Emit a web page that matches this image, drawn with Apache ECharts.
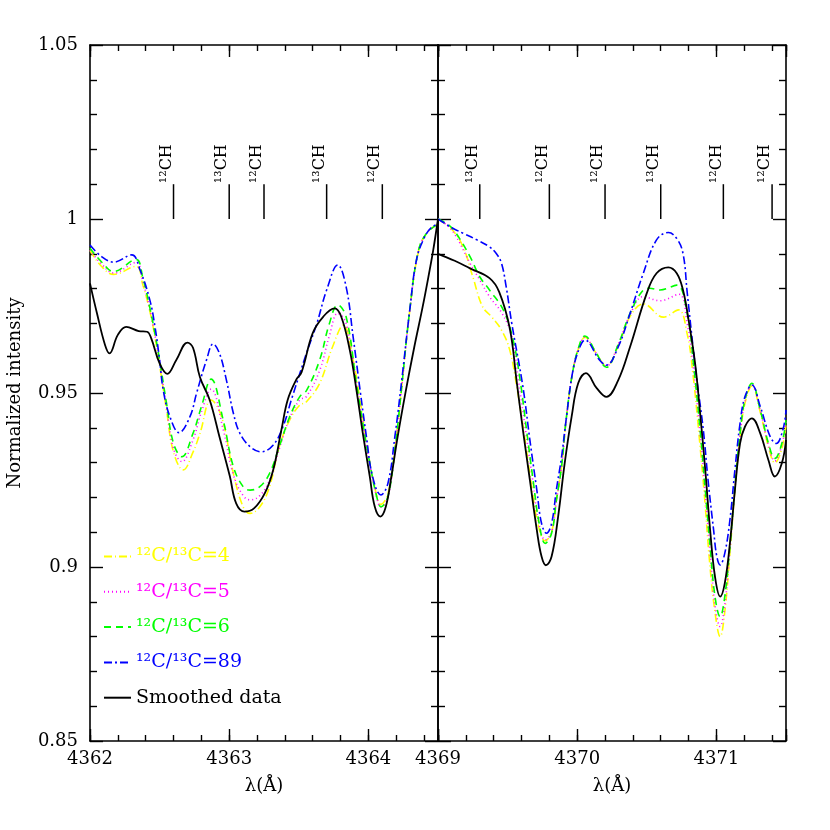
<!DOCTYPE html>
<html>
<head>
<meta charset="utf-8">
<title>CH lines</title>
<script src="https://cdn.jsdelivr.net/npm/echarts@6/dist/echarts.min.js"></script>
<style>
  html, body { margin: 0; padding: 0; background: #fff; }
  #chart { width: 830px; height: 830px; }
</style>
</head>
<body>
<div id="chart"></div>
<script>
// ---- data ----
// left window 4362 - 4364.5 A
var leftSmoothX = [4362.00, 4362.05, 4362.108, 4362.14, 4362.20, 4362.26, 4362.35, 4362.41, 4362.44, 4362.50, 4362.555, 4362.62, 4362.70, 4362.74, 4362.79, 4362.86, 4362.93, 4363.005, 4363.05, 4363.11, 4363.18, 4363.256, 4363.316, 4363.375, 4363.42, 4363.48, 4363.52, 4363.60, 4363.675, 4363.757, 4363.805, 4363.866, 4363.914, 4363.96, 4364.01, 4364.046, 4364.086, 4364.125, 4364.165, 4364.21, 4364.27, 4364.33, 4364.39, 4364.44, 4364.466, 4364.50]
var leftSmoothY = [0.9815, 0.9729, 0.9638, 0.9614, 0.9667, 0.9690, 0.9678, 0.9676, 0.9657, 0.9585, 0.9555, 0.9595, 0.9645, 0.9630, 0.9545, 0.9480, 0.9374, 0.9260, 0.9183, 0.9159, 0.9169, 0.9212, 0.9279, 0.9394, 0.9480, 0.9537, 0.9560, 0.9672, 0.9719, 0.9743, 0.9719, 0.9624, 0.9509, 0.9384, 0.9260, 0.9173, 0.9145, 0.9173, 0.9260, 0.9374, 0.9509, 0.9633, 0.9748, 0.9853, 0.9911, 1.0000]

var leftR89X = [4362.00, 4362.08, 4362.17, 4362.30, 4362.36, 4362.43, 4362.467, 4362.50, 4362.526, 4362.574, 4362.64, 4362.718, 4362.766, 4362.837, 4362.885, 4362.93, 4362.98, 4363.03, 4363.077, 4363.15, 4363.23, 4363.315, 4363.386, 4363.45, 4363.555, 4363.63, 4363.70, 4363.78, 4363.84, 4363.89, 4363.94, 4363.986, 4364.03, 4364.09, 4364.14, 4364.19, 4364.237, 4364.297, 4364.345, 4364.40, 4364.45, 4364.50]
var leftR89Y = [0.9925, 0.9893, 0.9876, 0.9897, 0.9853, 0.9767, 0.9690, 0.9595, 0.9509, 0.9432, 0.9386, 0.9432, 0.9500, 0.9595, 0.9641, 0.9614, 0.9537, 0.9442, 0.9384, 0.9346, 0.9331, 0.9350, 0.9403, 0.9485, 0.9614, 0.9700, 0.9796, 0.9868, 0.9805, 0.9662, 0.9509, 0.9374, 0.9260, 0.9207, 0.9240, 0.9374, 0.9528, 0.9738, 0.9882, 0.9945, 0.9975, 0.9985]

var leftR6X = [4362.00, 4362.08, 4362.17, 4362.33, 4362.38, 4362.43, 4362.467, 4362.50, 4362.55, 4362.60, 4362.66, 4362.74, 4362.80, 4362.87, 4362.957, 4363.03, 4363.10, 4363.15, 4363.22, 4363.29, 4363.36, 4363.435, 4363.506, 4363.555, 4363.65, 4363.72, 4363.78, 4363.84, 4363.914, 4363.96, 4364.01, 4364.06, 4364.09, 4364.14, 4364.19, 4364.237, 4364.297, 4364.36, 4364.42, 4364.50]
var leftR6Y = [0.9916, 0.9878, 0.9849, 0.9884, 0.9830, 0.9745, 0.9670, 0.9595, 0.9470, 0.9355, 0.9317, 0.9384, 0.9460, 0.9540, 0.9422, 0.9288, 0.9231, 0.9221, 0.9231, 0.9269, 0.9346, 0.9432, 0.9489, 0.9507, 0.9595, 0.9700, 0.9753, 0.9719, 0.9528, 0.9413, 0.9298, 0.9202, 0.9173, 0.9202, 0.9336, 0.9509, 0.9738, 0.9910, 0.9960, 0.9985]

var leftR5X = leftR6X
var leftR5Y = [0.9910, 0.9872, 0.9845, 0.9875, 0.9820, 0.9740, 0.9665, 0.9590, 0.9460, 0.9340, 0.9303, 0.9365, 0.9445, 0.9511, 0.9395, 0.9265, 0.9205, 0.9193, 0.9205, 0.9250, 0.9340, 0.9428, 0.9480, 0.9490, 0.9565, 0.9665, 0.9729, 0.9700, 0.9525, 0.9410, 0.9295, 0.9200, 0.9172, 0.9200, 0.9334, 0.9507, 0.9736, 0.9908, 0.9960, 0.9985]

var leftR4X = [4362.00, 4362.08, 4362.17, 4362.33, 4362.38, 4362.43, 4362.467, 4362.50, 4362.55, 4362.60, 4362.67, 4362.74, 4362.79, 4362.87, 4362.945, 4363.03, 4363.10, 4363.15, 4363.22, 4363.29, 4363.36, 4363.435, 4363.506, 4363.555, 4363.65, 4363.74, 4363.82, 4363.89, 4363.94, 4363.99, 4364.04, 4364.09, 4364.14, 4364.19, 4364.237, 4364.297, 4364.36, 4364.42, 4364.50]
var leftR4Y = [0.9910, 0.9865, 0.9841, 0.9864, 0.9810, 0.9735, 0.9660, 0.9580, 0.9450, 0.9330, 0.9279, 0.9330, 0.9384, 0.9480, 0.9432, 0.9269, 0.9173, 0.9154, 0.9173, 0.9231, 0.9346, 0.9423, 0.9465, 0.9475, 0.9528, 0.9630, 0.9695, 0.9595, 0.9480, 0.9350, 0.9240, 0.9180, 0.9210, 0.9336, 0.9509, 0.9736, 0.9908, 0.9960, 0.9985]

// right window 4369 - 4371.5 A
var rightSmoothX = [4369.00, 4369.12, 4369.23, 4369.37, 4369.44, 4369.516, 4369.564, 4369.61, 4369.66, 4369.71, 4369.744, 4369.775, 4369.816, 4369.863, 4369.91, 4369.96, 4370.007, 4370.063, 4370.14, 4370.21, 4370.295, 4370.38, 4370.50, 4370.57, 4370.655, 4370.715, 4370.76, 4370.80, 4370.847, 4370.883, 4370.92, 4370.955, 4370.99, 4371.027, 4371.06, 4371.097, 4371.133, 4371.17, 4371.205, 4371.255, 4371.315, 4371.374, 4371.42, 4371.47, 4371.50]
var rightSmoothY = [0.9900, 0.9880, 0.9858, 0.9830, 0.9790, 0.9685, 0.9537, 0.9394, 0.9250, 0.9106, 0.9030, 0.9005, 0.9030, 0.9145, 0.9298, 0.9432, 0.9528, 0.9557, 0.9514, 0.9489, 0.9537, 0.9633, 0.9787, 0.9844, 0.9861, 0.9844, 0.9796, 0.9710, 0.9585, 0.9442, 0.9279, 0.9106, 0.8972, 0.8915, 0.8953, 0.9068, 0.9221, 0.9355, 0.9403, 0.9427, 0.9384, 0.9307, 0.9260, 0.9298, 0.9365]

var rightR89X = [4369.00, 4369.10, 4369.18, 4369.28, 4369.37, 4369.42, 4369.456, 4369.49, 4369.53, 4369.61, 4369.66, 4369.71, 4369.744, 4369.78, 4369.816, 4369.85, 4369.888, 4369.92, 4369.97, 4370.02, 4370.055, 4370.16, 4370.21, 4370.295, 4370.38, 4370.475, 4370.57, 4370.655, 4370.715, 4370.76, 4370.79, 4370.83, 4370.86, 4370.906, 4370.94, 4370.98, 4371.003, 4371.027, 4371.06, 4371.097, 4371.133, 4371.17, 4371.205, 4371.255, 4371.315, 4371.387, 4371.43, 4371.48, 4371.50]
var rightR89Y = [1.0000, 0.9975, 0.9959, 0.9940, 0.9920, 0.9900, 0.9873, 0.9805, 0.9700, 0.9518, 0.9365, 0.9221, 0.9125, 0.9097, 0.9125, 0.9221, 0.9317, 0.9422, 0.9566, 0.9633, 0.9652, 0.9595, 0.9580, 0.9633, 0.9729, 0.9844, 0.9940, 0.9961, 0.9944, 0.9901, 0.9790, 0.9640, 0.9537, 0.9394, 0.9250, 0.9106, 0.9030, 0.9006, 0.9039, 0.9135, 0.9279, 0.9413, 0.9489, 0.9523, 0.9461, 0.9374, 0.9355, 0.9398, 0.9451]

var rightR6X = [4369.00, 4369.07, 4369.13, 4369.23, 4369.30, 4369.37, 4369.47, 4369.54, 4369.59, 4369.636, 4369.683, 4369.727, 4369.77, 4369.816, 4369.85, 4369.888, 4369.92, 4369.97, 4370.02, 4370.055, 4370.13, 4370.21, 4370.295, 4370.38, 4370.475, 4370.52, 4370.595, 4370.715, 4370.79, 4370.835, 4370.883, 4370.92, 4370.955, 4370.99, 4371.027, 4371.06, 4371.097, 4371.133, 4371.17, 4371.205, 4371.255, 4371.315, 4371.374, 4371.42, 4371.47, 4371.50]
var rightR6Y = [1.0000, 0.9985, 0.9959, 0.9892, 0.9834, 0.9796, 0.9738, 0.9652, 0.9537, 0.9394, 0.9250, 0.9125, 0.9068, 0.9097, 0.9190, 0.9290, 0.9422, 0.9566, 0.9643, 0.9664, 0.9620, 0.9574, 0.9640, 0.9729, 0.9796, 0.9801, 0.9796, 0.9810, 0.9729, 0.9585, 0.9394, 0.9221, 0.9058, 0.8915, 0.8857, 0.8915, 0.9058, 0.9231, 0.9384, 0.9480, 0.9528, 0.9451, 0.9355, 0.9312, 0.9355, 0.9422]

var rightR5X = [4369.00, 4369.07, 4369.13, 4369.23, 4369.30, 4369.37, 4369.46, 4369.53, 4369.58, 4369.63, 4369.68, 4369.725, 4369.77, 4369.816, 4369.85, 4369.888, 4369.92, 4369.97, 4370.02, 4370.055, 4370.13, 4370.21, 4370.295, 4370.38, 4370.475, 4370.595, 4370.73, 4370.79, 4370.835, 4370.883, 4370.92, 4370.955, 4370.99, 4371.027, 4371.06, 4371.097, 4371.133, 4371.17, 4371.205, 4371.255, 4371.315, 4371.374, 4371.42, 4371.47, 4371.50]
var rightR5Y = [1.0000, 0.9980, 0.9950, 0.9873, 0.9825, 0.9777, 0.9729, 0.9662, 0.9530, 0.9390, 0.9250, 0.9125, 0.9078, 0.9100, 0.9190, 0.9290, 0.9420, 0.9566, 0.9640, 0.9660, 0.9618, 0.9578, 0.9640, 0.9725, 0.9777, 0.9765, 0.9784, 0.9700, 0.9570, 0.9380, 0.9210, 0.9040, 0.8890, 0.8829, 0.8890, 0.9050, 0.9225, 0.9380, 0.9475, 0.9525, 0.9450, 0.9350, 0.9305, 0.9350, 0.9420]

var rightR4X = [4369.00, 4369.10, 4369.18, 4369.25, 4369.32, 4369.385, 4369.456, 4369.515, 4369.565, 4369.62, 4369.67, 4369.72, 4369.77, 4369.816, 4369.85, 4369.888, 4369.92, 4369.97, 4370.02, 4370.055, 4370.13, 4370.21, 4370.295, 4370.38, 4370.475, 4370.62, 4370.727, 4370.79, 4370.83, 4370.875, 4370.915, 4370.95, 4370.99, 4371.027, 4371.06, 4371.097, 4371.133, 4371.17, 4371.205, 4371.255, 4371.315, 4371.374, 4371.42, 4371.47, 4371.50]
var rightR4Y = [1.0000, 0.9970, 0.9920, 0.9834, 0.9748, 0.9719, 0.9681, 0.9624, 0.9520, 0.9380, 0.9240, 0.9120, 0.9075, 0.9100, 0.9190, 0.9290, 0.9420, 0.9566, 0.9640, 0.9660, 0.9618, 0.9578, 0.9635, 0.9720, 0.9756, 0.9718, 0.9739, 0.9670, 0.9560, 0.9380, 0.9200, 0.9020, 0.8870, 0.8800, 0.8870, 0.9040, 0.9220, 0.9375, 0.9470, 0.9520, 0.9445, 0.9345, 0.9300, 0.9340, 0.9410]

// line identifications at the top
var leftLineWave = [4362.60, 4363.00, 4363.25, 4363.70, 4364.10]
var leftLineLabel = ['¹²CH', '¹³CH', '¹²CH', '¹³CH', '¹²CH']
var rightLineWave = [4369.30, 4369.80, 4370.20, 4370.60, 4371.05, 4371.40]
var rightLineLabel = ['¹³CH', '¹²CH', '¹²CH', '¹³CH', '¹²CH', '¹²CH']

var seriesNames = ['¹²C/¹³C=4', '¹²C/¹³C=5', '¹²C/¹³C=6', '¹²C/¹³C=89', 'Smoothed data']
var seriesColors = ['#ffff00', '#ff00ff', '#00ff00', '#0000ff', '#000000']
var seriesDash = [[8, 3, 1, 3], [1, 3], [7, 5], [8, 3, 2, 3], 'solid']

var FONT = 'DejaVu Serif'

function pairs(xs, ys) {
  return xs.map(function (x, i) { return [x, ys[i]] })
}

function curve(k, xIdx, yIdx, data) {
  return {
    name: seriesNames[k],
    type: 'line',
    xAxisIndex: xIdx,
    yAxisIndex: yIdx,
    data: data,
    smooth: 0.4,
    symbol: 'none',
    clip: true,
    z: k === 4 ? 4 : 3,
    lineStyle: { color: seriesColors[k], width: k === 4 ? 1.8 : 1.6, type: seriesDash[k] },
    itemStyle: { color: seriesColors[k] }
  }
}

function markers(xIdx, yIdx, waves, labels) {
  return {
    type: 'custom',
    xAxisIndex: xIdx,
    yAxisIndex: yIdx,
    silent: true,
    data: waves.map(function (w) { return [w, 1.0] }),
    renderItem: function (params, api) {
      var w = api.value(0)
      var p0 = api.coord([w, 1.0])
      var p1 = api.coord([w, 1.01])
      return {
        type: 'group',
        children: [{
          type: 'line',
          shape: { x1: p0[0], y1: p0[1], x2: p1[0], y2: p1[1] },
          style: { stroke: '#000', lineWidth: 1.5 }
        }, {
          type: 'text',
          x: p1[0] + 1,
          y: p1[1] - 1,
          rotation: Math.PI / 2,
          style: {
            text: labels[params.dataIndex],
            x: 0,
            y: 0,
            align: 'left',
            verticalAlign: 'bottom',
            font: '16px "' + FONT + '"',
            fill: '#000'
          }
        }]
      }
    }
  }
}

// x axes: one for the long integer ticks + labels, one for the short 0.2 ticks
function xAxes(grid, min, max, pos, withLabels) {
  var major = {
    type: 'value', gridIndex: grid, position: pos, min: min, max: max, interval: 1,
    axisLine: { show: true, onZero: false, lineStyle: { color: '#000', width: 1.6 } },
    axisTick: { show: true, inside: true, length: 12, lineStyle: { color: '#000', width: 1.4 } },
    axisLabel: {
      show: withLabels, margin: 9, color: '#000', fontFamily: FONT, fontSize: 18,
      formatter: function (v) { return Math.abs(v - Math.round(v)) < 1e-6 ? String(Math.round(v)) : '' }
    },
    splitLine: { show: false }
  }
  if (withLabels) {
    major.name = 'λ(Å)'
    major.nameLocation = 'middle'
    major.nameGap = 36
    major.nameTextStyle = { color: '#000', fontFamily: FONT, fontSize: 18 }
  }
  var minor = {
    type: 'value', gridIndex: grid, position: pos, min: min, max: max, interval: 0.2,
    axisLine: { show: false, onZero: false },
    axisTick: { show: true, inside: true, length: 6, lineStyle: { color: '#000', width: 1.4 } },
    axisLabel: { show: false },
    splitLine: { show: false }
  }
  return [major, minor]
}

function yAxis(grid, pos, withLabels) {
  var ax = {
    type: 'value', gridIndex: grid, position: pos, min: 0.85, max: 1.05, interval: 0.05,
    axisLine: { show: true, onZero: false, lineStyle: { color: '#000', width: 1.6 } },
    axisTick: { show: true, inside: true, length: 13, lineStyle: { color: '#000', width: 1.4 } },
    minorTick: { show: true, splitNumber: 5, length: 7, lineStyle: { color: '#000', width: 1.4 } },
    axisLabel: { show: withLabels, margin: 12, color: '#000', fontFamily: FONT, fontSize: 18 },
    splitLine: { show: false },
    minorSplitLine: { show: false }
  }
  if (withLabels) {
    ax.name = 'Normalized intensity'
    ax.nameLocation = 'middle'
    ax.nameGap = 66
    ax.nameTextStyle = { color: '#000', fontFamily: FONT, fontSize: 18 }
  }
  return ax
}

var chart = echarts.init(document.getElementById('chart'))

chart.setOption({
  animation: false,
  backgroundColor: '#fff',
  grid: [
    { left: 90, top: 45, width: 348, height: 696 },
    { left: 438, top: 45, width: 348, height: 696 }
  ],
  // 0,1 left bottom; 2,3 left top; 4,5 right bottom; 6,7 right top
  xAxis: [].concat(
    xAxes(0, 4362, 4364.5, 'bottom', true),
    xAxes(0, 4362, 4364.5, 'top', false),
    xAxes(1, 4369, 4371.5, 'bottom', true),
    xAxes(1, 4369, 4371.5, 'top', false)
  ),
  yAxis: [
    yAxis(0, 'left', true),
    yAxis(0, 'right', false),
    yAxis(1, 'left', false),
    yAxis(1, 'right', false)
  ],
  legend: {
    left: 103,
    top: 547,
    padding: 0,
    orient: 'vertical',
    itemWidth: 27,
    itemHeight: 20,
    itemGap: 16.3,
    selectedMode: false,
    itemStyle: { opacity: 0 },
    textStyle: { fontFamily: FONT, fontSize: 19 },
    data: seriesNames.map(function (n, i) {
      return { name: n, textStyle: { color: seriesColors[i] } }
    })
  },
  series: [
    curve(0, 0, 0, pairs(leftR4X, leftR4Y)),
    curve(1, 0, 0, pairs(leftR5X, leftR5Y)),
    curve(2, 0, 0, pairs(leftR6X, leftR6Y)),
    curve(3, 0, 0, pairs(leftR89X, leftR89Y)),
    curve(4, 0, 0, pairs(leftSmoothX, leftSmoothY)),
    curve(0, 4, 2, pairs(rightR4X, rightR4Y)),
    curve(1, 4, 2, pairs(rightR5X, rightR5Y)),
    curve(2, 4, 2, pairs(rightR6X, rightR6Y)),
    curve(3, 4, 2, pairs(rightR89X, rightR89Y)),
    curve(4, 4, 2, pairs(rightSmoothX, rightSmoothY)),
    markers(0, 0, leftLineWave, leftLineLabel),
    markers(4, 2, rightLineWave, rightLineLabel)
  ]
})
</script>
</body>
</html>
